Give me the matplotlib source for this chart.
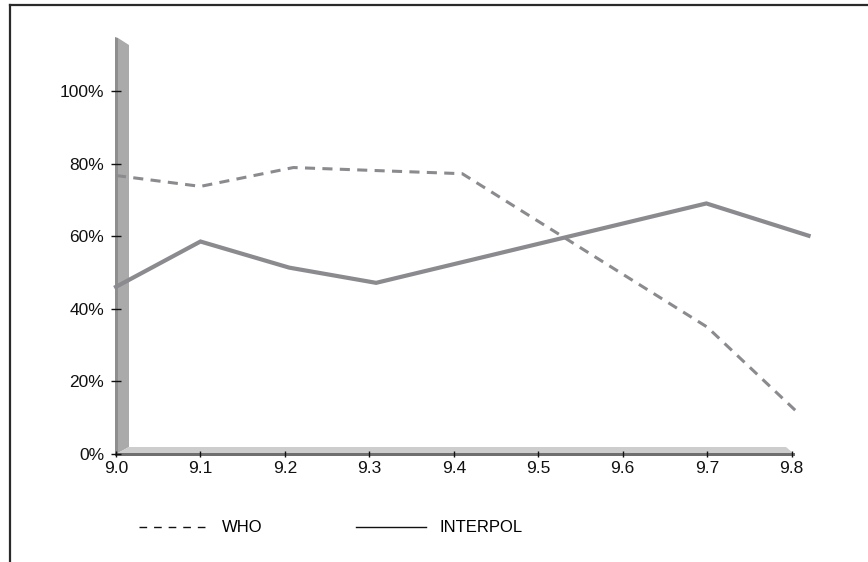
import matplotlib.pyplot as plt
from matplotlib.patches import Polygon
from matplotlib.lines import Line2D

# ---------------- data ----------------
who_x = [9.0, 9.1, 9.21, 9.41, 9.7, 9.81]
who_y = [76.8, 73.8, 79.0, 77.3, 35.0, 10.8]

interpol_x = [9.0, 9.1, 9.205, 9.308, 9.699, 9.82]
interpol_y = [46.1, 58.6, 51.4, 47.2, 69.1, 60.2]

x_ticks = [9.0, 9.1, 9.2, 9.3, 9.4, 9.5, 9.6, 9.7, 9.8]
x_labels = ['9.0', '9.1', '9.2', '9.3', '9.4', '9.5', '9.6', '9.7', '9.8']
y_ticks = [0, 20, 40, 60, 80, 100]
y_labels = ['0%', '20%', '40%', '60%', '80%', '100%']

series_names = ['WHO', 'INTERPOL']

# ---------------- figure ----------------
W, H = 868, 562
fig = plt.figure(figsize=(W / 100, H / 100), dpi=100)

tick_font = ['Liberation Sans Narrow', 'Liberation Sans', 'DejaVu Sans']
line_grey = '#8b8b8f'

# axes: 9.0 -> px 116, 9.83 -> px 817 ; 0% -> py 454, 115% -> py 37
ax = fig.add_axes([116 / W, 1 - 454 / H, (817 - 116) / W, (454 - 37) / H])
ax.set_xlim(9.0, 9.83)
ax.set_ylim(0, 115)
ax.patch.set_visible(False)
for s in ax.spines.values():
    s.set_visible(False)


def fp(x, y):
    # pixel position -> figure fraction
    return (x / W, 1 - y / H)


def deco(pts, color, z=1):
    p = Polygon([fp(*q) for q in pts], closed=True, transform=fig.transFigure,
                facecolor=color, edgecolor='none', clip_on=False, zorder=z)
    ax.add_patch(p)


# pseudo-3D wall and floor
deco([(115, 37), (118, 38), (118, 453), (115, 456)], '#8e8e8e')
deco([(118, 38), (129, 45), (129, 447), (118, 453)], '#aaaaaa')
deco([(118, 453), (129, 447), (786, 447), (793, 453)], '#cdcdcd')
deco([(115, 453), (795, 453), (795, 456), (115, 456)], '#6f6f6f')

# series
ax.plot(who_x, who_y, color=line_grey, lw=2.2, dashes=(3.3, 2.4),
        solid_capstyle='butt', zorder=3, clip_on=False)
ax.plot(interpol_x, interpol_y, color=line_grey, lw=3.0,
        solid_joinstyle='miter', zorder=3, clip_on=False)

# ticks
ax.set_xticks(x_ticks)
ax.set_xticklabels(x_labels)
ax.set_yticks(y_ticks)
ax.set_yticklabels(y_labels)
ax.tick_params(axis='y', direction='inout', length=7, width=1, color='#111111',
               pad=5, labelsize=12.5, labelcolor='#111111')
ax.tick_params(axis='x', direction='inout', length=4.5, width=1, color='#111111',
               pad=3, labelsize=12.5, labelcolor='#111111')
for lab in ax.get_xticklabels() + ax.get_yticklabels():
    lab.set_family(tick_font)

# frame around the picture (top and left only)
fig.add_artist(Line2D([10 / W, 1], [1 - 5 / H, 1 - 5 / H], color='#2a2a2a', lw=1.6,
                      transform=fig.transFigure))
fig.add_artist(Line2D([10 / W, 10 / W], [0, 1 - 5 / H], color='#2a2a2a', lw=1.6,
                      transform=fig.transFigure))

# legend
handles = [Line2D([], [], color='#111111', lw=1, ls=(0, (5.5, 5))),
           Line2D([], [], color='#111111', lw=1)]
fig.legend(handles, series_names, ncol=2, frameon=False, loc='center left',
           bbox_to_anchor=(132 / W, 1 - 528 / H), handlelength=4.2,
           handletextpad=0.8, columnspacing=5.6, borderaxespad=0,
           prop={'family': ['Liberation Sans', 'DejaVu Sans'], 'size': 12})

fig.savefig('out.png', dpi=100)
